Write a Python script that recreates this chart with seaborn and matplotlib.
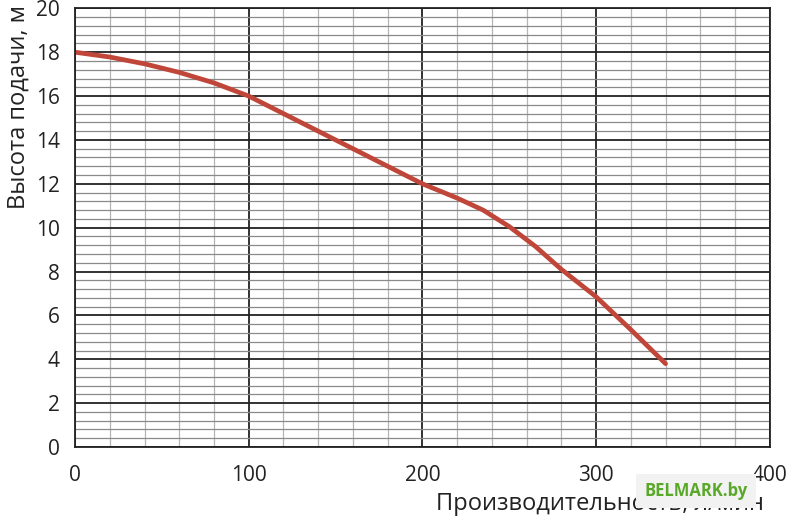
import numpy as np
import pandas as pd
import seaborn as sns
import matplotlib.pyplot as plt
from matplotlib.ticker import MultipleLocator

# pump curve
flow = [0, 20, 40, 60, 80, 100, 120, 140, 160, 180, 200, 220, 235, 250, 265, 280, 300, 320, 340]
head = [18.0, 17.78, 17.47, 17.08, 16.6, 16.0, 15.2, 14.4, 13.6, 12.8, 12.0, 11.35, 10.8, 10.05, 9.15,
        8.1, 6.85, 5.35, 3.8]
x_ticks = [0, 100, 200, 300, 400]
y_ticks = [0, 2, 4, 6, 8, 10, 12, 14, 16, 18, 20]

df = pd.DataFrame({'flow': flow, 'head': head})

sns.set_style('white')
plt.rcParams['font.family'] = ['Open Sans', 'DejaVu Sans']

fig = plt.figure(figsize=(7.94, 5.21), dpi=100)
ax = fig.add_axes([0.0945, 0.142, 0.875, 0.842])

sns.lineplot(data=df, x='flow', y='head', color='#c0463a', linewidth=3.4,
             solid_capstyle='round', solid_joinstyle='round', ax=ax)

ax.set_xlim(0, 400)
ax.set_ylim(0, 20)
ax.set_xticks(x_ticks)
ax.set_yticks(y_ticks)
ax.xaxis.set_minor_locator(MultipleLocator(20))
ax.yaxis.set_minor_locator(MultipleLocator(0.4))
ax.grid(which='major', color='#222222', linewidth=1.3)
ax.grid(which='minor', axis='y', color='#8a8a8a', linewidth=0.9)
ax.grid(which='minor', axis='x', color='#b5b5b5', linewidth=0.9)
ax.set_axisbelow(True)
for s in ax.spines.values():
    s.set_color('#222222')
    s.set_linewidth(1.3)

ax.tick_params(which='major', direction='out', length=6, width=1.3,
               color='#222222', labelsize=15, labelcolor='#222222', pad=5)
ax.tick_params(which='minor', length=0)
ax.tick_params(axis='x', pad=7)

ax.set_xlabel('')
ax.set_ylabel('')
fig.text(0.008, 0.99, 'Высота подачи, м', rotation=90, ha='left', va='top',
         fontsize=17, color='#222222')
fig.text(0.549, 0.01, 'Производительность, л/мин', ha='left', va='bottom',
         fontsize=17, color='#222222')
# watermark sits over the end of the axis label, as in the source image
fig.text(0.812, 0.04, 'BELMARK.by', ha='left', va='bottom', fontsize=12,
         fontweight='bold', color='#5aa82a',
         bbox=dict(boxstyle='square,pad=0.5', facecolor='#f2f2f2', edgecolor='none'))

fig.savefig('out.png', dpi=100)
